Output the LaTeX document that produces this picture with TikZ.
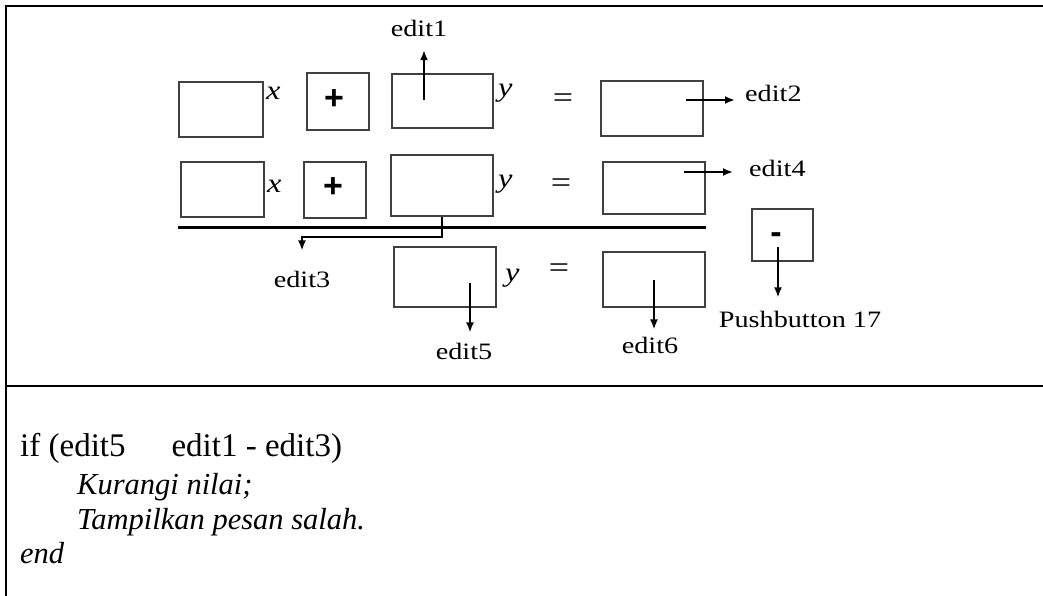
\documentclass[tikz,border=0pt]{standalone}
\usepackage{fontspec}
\usepackage{graphicx}
\setmainfont{Liberation Serif}
\setsansfont{Liberation Sans}
\usetikzlibrary{arrows.meta}
% wide setting used by the form labels
\newcommand\wide[1]{\scalebox{1.2}[1]{#1}}
\tikzset{
  frame/.style={line width=2.2pt,black},
  box/.style={draw=black!75,line width=1.7pt,inner sep=0pt},
  arr/.style={line width=2.3pt,-{Latex[length=10pt,width=8pt]}},
  lab/.style={inner sep=0pt,anchor=base,font=\fontsize{23.5}{23.5}\selectfont},
  var/.style={inner sep=0pt,anchor=base west,font=\fontsize{27}{27}\selectfont\itshape},
  eq/.style={inner sep=0pt,font=\fontsize{30}{30}\selectfont},
  btn/.style={font=\fontsize{34}{34}\selectfont\sffamily\bfseries},
  code/.style={inner sep=0pt,anchor=base west,font=\fontsize{33}{33}\selectfont},
  codeit/.style={inner sep=0pt,anchor=base west,font=\fontsize{30.5}{30.5}\selectfont\itshape},
}
\begin{document}
\begin{tikzpicture}[x=1pt,y=-1pt]
\useasboundingbox (0,0) rectangle (1043,596);

% table frame
\draw[frame] (1043,6) -- (6,6) -- (6,596);
\draw[frame] (6,386) -- (1043,386);

% first equation row
\node[box,minimum width=84,minimum height=55] (a1) at (221,109.5) {};
\node[var] (x1) at (266,100) {\wide{x}};
\node[box,minimum width=62,minimum height=57] (p1) at (338,101.5) {};
\node[btn,inner sep=0pt] (p1t) at (334,100) {+};
\node[box,minimum width=101,minimum height=54] (b1) at (442.5,101) {};
\node[var] (y1) at (498,97) {\wide{y}};
\node[eq] (q1) at (563,101) {\wide{=}};
\node[box,minimum width=102,minimum height=55] (c1) at (652,108.5) {};

% second equation row
\node[box,minimum width=83,minimum height=55] (a2) at (222.5,189.5) {};
\node[var] (x2) at (267,193) {\wide{x}};
\node[box,minimum width=62,minimum height=56] (p2) at (335,190) {};
\node[btn,inner sep=0pt] (p2t) at (333,188) {+};
\node[box,minimum width=102,minimum height=61] (b2) at (442,185.5) {};
\node[var] (y2) at (498,188) {\wide{y}};
\node[eq] (q2) at (561,186) {\wide{=}};
\node[box,minimum width=102,minimum height=52] (c2) at (654,188) {};

% subtraction bar
\coordinate (barL) at (178,227);
\coordinate (barR) at (706,227);
\draw[line width=3pt] (barL) -- (barR);

% result row
\node[box,minimum width=102,minimum height=60] (b3) at (445,277) {};
\node[var] (y3) at (505,281) {\wide{y}};
\node[eq] (q3) at (559,271) {\wide{=}};
\node[box,minimum width=102,minimum height=55] (c3) at (654,279.5) {};
\node[box,minimum width=61,minimum height=52] (m) at (782.5,235) {};
\node[btn,inner sep=0pt] (mtxt) at (776,238) {-};

% component labels
\node[lab] (edit1) at (419,36.7) {\wide{edit1}};
\node[lab,anchor=base west] (edit2) at (745,102) {\wide{edit2}};
\node[lab,anchor=base west] (edit4) at (749,177) {\wide{edit4}};
\node[lab] (edit3) at (302,287) {\wide{edit3}};
\node[lab] (edit5) at (464,359) {\wide{edit5}};
\node[lab] (edit6) at (650,353) {\wide{edit6}};
\node[lab] (pb) at (800,327) {\wide{Pushbutton 17}};

% arrow origins inside the boxes
\coordinate (s1) at (424,100);
\coordinate (s2) at (686,100);
\coordinate (s4) at (684,172);
\coordinate (s5) at (470,283);
\coordinate (s6) at (654,280);
\coordinate (sm) at (778,247);

\draw[arr,shorten >=13pt] (s1) -- (s1 |- edit1.south);
\draw[arr,shorten >=10pt] (s2) -- (s2 -| edit2.west);
\draw[arr,shorten >=16pt] (s4) -- (s4 -| edit4.west);
\draw[arr,shorten >=20pt] (b2.south) -- ++(0,20) -| (edit3.north);
\draw[arr,shorten >=10pt] (s5) -- (s5 |- edit5.north);
\draw[arr,shorten >=7pt] (s6) -- (s6 |- edit6.north);
\draw[arr,shorten >=13pt] (sm) -- (sm |- pb.north);

% condition text
\node[code] (l1) at (20,456) {if (edit5\hspace{46pt}edit1 - edit3)};
\node[codeit] (l2) at (77,494) {Kurangi nilai;};
\node[codeit] (l3) at (77,529) {Tampilkan pesan salah.};
\node[codeit] (l4) at (20,563) {end};
\end{tikzpicture}
\end{document}
